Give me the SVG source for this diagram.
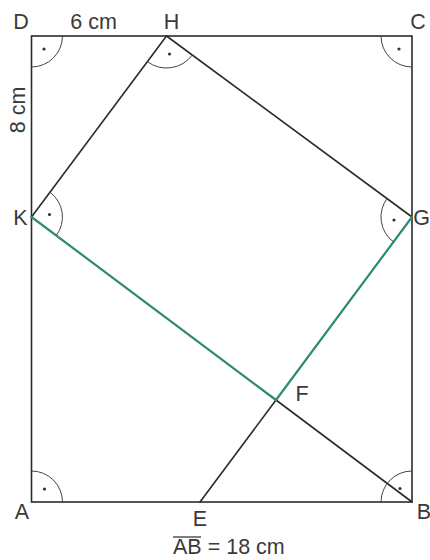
<svg xmlns="http://www.w3.org/2000/svg" width="430" height="560" viewBox="0 0 430 560">
<style>
.edge{fill:none;stroke:#2b2b2b;stroke-width:1.6;stroke-linecap:round}
.green{fill:none;stroke:#2e8b72;stroke-width:2.2;stroke-linecap:round}
.arc{fill:none;stroke:#444;stroke-width:1}
.dot{fill:#333}
.lbl{font-family:"Liberation Sans",Arial,sans-serif;font-size:21.5px;fill:#3a3a3a}
</style>
<rect width="430" height="560" fill="#fff"/>
<g id="connectors">
<rect class="edge" x="31.5" y="36" width="380.5" height="466"/>
<line class="edge" x1="166.5" y1="36" x2="31.5" y2="217"/>
<line class="edge" x1="166.5" y1="36" x2="412" y2="217"/>
<line class="edge" x1="276" y1="400" x2="412" y2="502"/>
<line class="edge" x1="276" y1="400" x2="200" y2="502"/>
<line class="green" x1="31.5" y1="217" x2="276" y2="400"/>
<line class="green" x1="412" y1="217" x2="276" y2="400"/>
</g>
<g id="angles">
<path class="arc" d="M62.5 36 A31 31 0 0 1 31.5 67"/>
<circle class="dot" cx="44" cy="49" r="1.6"/>
<path class="arc" d="M381 36 A31 31 0 0 0 412 67"/>
<circle class="dot" cx="399" cy="49" r="1.6"/>
<path class="arc" d="M31.5 471 A31 31 0 0 1 62.5 502"/>
<circle class="dot" cx="44.5" cy="489" r="1.6"/>
<path class="arc" d="M381 502 A31 31 0 0 1 412 471"/>
<circle class="dot" cx="400" cy="488.5" r="1.6"/>
<path class="arc" d="M147.4 61.7 A32 32 0 0 0 192.3 55"/>
<circle class="dot" cx="169.5" cy="54" r="1.6"/>
<path class="arc" d="M50 192.2 A31 31 0 0 1 56.3 235.6"/>
<circle class="dot" cx="49.5" cy="214.5" r="1.6"/>
<path class="arc" d="M387 198.6 A31 31 0 0 0 393.5 241.9"/>
<circle class="dot" cx="394" cy="220" r="1.6"/>
</g>
<g id="node-D"><text class="lbl" x="21" y="29" text-anchor="middle">D</text></g>
<g id="node-H"><text class="lbl" x="171.5" y="29" text-anchor="middle">H</text></g>
<g id="node-C"><text class="lbl" x="418" y="29" text-anchor="middle">C</text></g>
<g id="node-K"><text class="lbl" x="20.5" y="225" text-anchor="middle">K</text></g>
<g id="node-G"><text class="lbl" x="421.5" y="225" text-anchor="middle">G</text></g>
<g id="node-F"><text class="lbl" x="302" y="401" text-anchor="middle">F</text></g>
<g id="node-A"><text class="lbl" x="22" y="519" text-anchor="middle">A</text></g>
<g id="node-B"><text class="lbl" x="424" y="519" text-anchor="middle">B</text></g>
<g id="node-E"><text class="lbl" x="200" y="526" text-anchor="middle">E</text></g>
<g id="labels">
<text class="lbl" x="93.5" y="29" text-anchor="middle">6 cm</text>
<text class="lbl" transform="translate(25 110) rotate(-90)" text-anchor="middle">8 cm</text>
<text class="lbl" x="173" y="554">AB = 18 cm</text>
<line x1="173" y1="537" x2="201" y2="537" stroke="#3a3a3a" stroke-width="1.3"/>
</g>
</svg>
